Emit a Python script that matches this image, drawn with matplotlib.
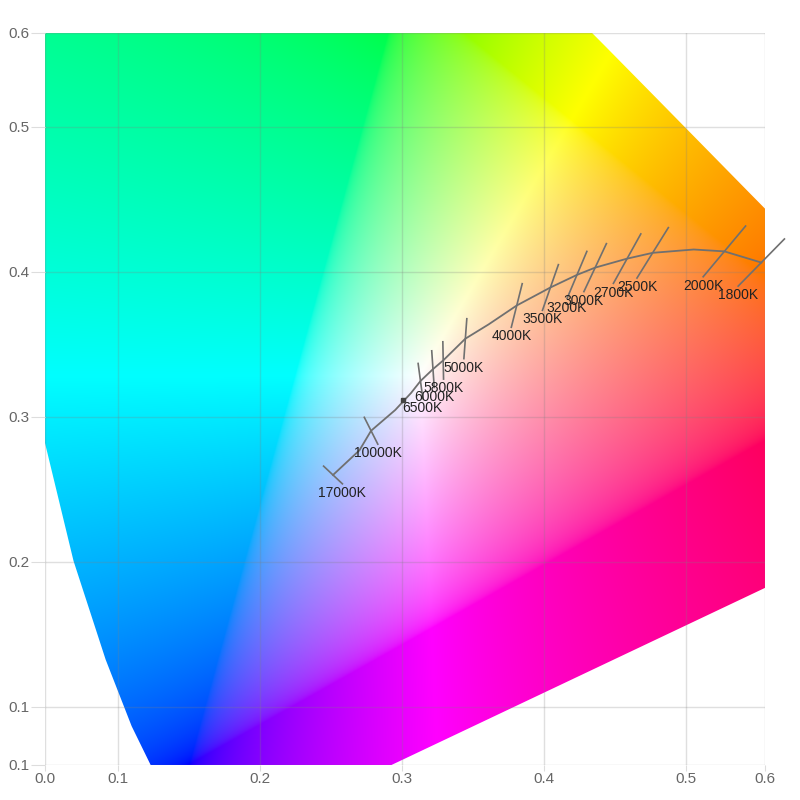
import numpy as np
import matplotlib
matplotlib.use("Agg")
import matplotlib.pyplot as plt
from matplotlib.patches import Polygon
from matplotlib.ticker import FormatStrFormatter

# CIE 1931 spectral locus, 380-700 nm every 5 nm
locus_x = [0.1741, 0.1740, 0.1738, 0.1736, 0.1733, 0.1730, 0.1726, 0.1721, 0.1714, 0.1703,
           0.1689, 0.1669, 0.1644, 0.1611, 0.1566, 0.1510, 0.1440, 0.1355, 0.1241, 0.1096,
           0.0913, 0.0687, 0.0454, 0.0235, 0.0082, 0.0039, 0.0139, 0.0389, 0.0743, 0.1142,
           0.1547, 0.1929, 0.2296, 0.2658, 0.3016, 0.3373, 0.3731, 0.4087, 0.4441, 0.4788,
           0.5125, 0.5448, 0.5752, 0.6029, 0.6270, 0.6482, 0.6658, 0.6801, 0.6915, 0.7006,
           0.7079, 0.7140, 0.7190, 0.7230, 0.7260, 0.7283, 0.7300, 0.7311, 0.7320, 0.7327,
           0.7334, 0.7340, 0.7344, 0.7346, 0.7347]
locus_y = [0.0050, 0.0050, 0.0049, 0.0049, 0.0048, 0.0048, 0.0048, 0.0048, 0.0051, 0.0058,
           0.0069, 0.0086, 0.0109, 0.0138, 0.0177, 0.0227, 0.0297, 0.0399, 0.0578, 0.0868,
           0.1327, 0.2007, 0.2950, 0.4127, 0.5384, 0.6548, 0.7502, 0.8120, 0.8338, 0.8262,
           0.8059, 0.7816, 0.7543, 0.7243, 0.6923, 0.6589, 0.6245, 0.5896, 0.5547, 0.5202,
           0.4866, 0.4544, 0.4242, 0.3965, 0.3725, 0.3514, 0.3340, 0.3197, 0.3083, 0.2993,
           0.2920, 0.2859, 0.2809, 0.2770, 0.2740, 0.2717, 0.2700, 0.2689, 0.2680, 0.2673,
           0.2666, 0.2660, 0.2656, 0.2654, 0.2653]

# planckian locus (as drawn)
cct = [17000, 12000, 10000, 8000, 7000, 6500, 6000, 5800, 5000, 4500, 4000, 3500,
       3200, 3000, 2700, 2500, 2200, 2000, 1800]
cct_x = [0.2514, 0.2700, 0.2782, 0.2952, 0.3064, 0.3130, 0.3218, 0.3290, 0.3446, 0.3609, 0.3808, 0.4045,
         0.4232, 0.4360, 0.4585, 0.4765, 0.5054, 0.5270, 0.5530]
cct_y = [0.2600, 0.2770, 0.2905, 0.3048, 0.3166, 0.3248, 0.3330, 0.3390, 0.3540, 0.3638, 0.3769, 0.3893,
         0.3980, 0.4030, 0.4092, 0.4132, 0.4155, 0.4142, 0.4065]
labeled = [17000, 10000, 6500, 6000, 5800, 5000, 4000, 3500, 3200, 3000, 2700, 2500, 2000, 1800]

mark_x = [0.3007]
mark_y = [0.3117]

xmin, xmax = 0.0486, 0.5556
ymin, ymax = 0.0600, 0.5648

plt.rcParams['font.family'] = ['Liberation Sans', 'DejaVu Sans']
fig = plt.figure(figsize=(8, 8), dpi=100)
ax = fig.add_axes([45/800, 1-765/800, 720/800, 732/800])

# colour fill: xy -> XYZ (Y=1) -> sRGB, clipped and normalised
gx = np.linspace(xmin, xmax, 900)
gy = np.linspace(ymin, ymax, 900)
X, Y = np.meshgrid(gx, gy)
XYZ = np.stack([X / Y, np.ones_like(X), (1 - X - Y) / Y], axis=-1)
M = np.array([[3.2406, -1.5372, -0.4986],
              [-0.9689, 1.8758, 0.0415],
              [0.0557, -0.2040, 1.0570]])
rgb = np.clip(XYZ @ M.T, 0, None)
rgb = rgb / rgb.max(axis=-1, keepdims=True)
rgb = np.where(rgb <= 0.0031308, 12.92 * rgb, 1.055 * rgb ** (1 / 2.4) - 0.055)
rgb = np.clip(rgb, 0, 1)

im = ax.imshow(rgb, extent=[xmin, xmax, ymin, ymax], origin='lower',
               interpolation='bilinear', aspect='auto', zorder=1)
horseshoe = Polygon(np.column_stack([locus_x, locus_y]), closed=True,
                    transform=ax.transData)
im.set_clip_path(horseshoe)

# planckian locus and isotherm ticks
ax.plot(cct_x, cct_y, color='#707070', lw=1.3, zorder=3)
for t, x, y in zip(cct, cct_x, cct_y):
    if t not in labeled:
        continue
    dx, dy = 0.3320 - x, 0.1858 - y
    n = np.hypot(dx, dy)
    h = min(0.007 + 0.034 * (1000.0 / t), 0.023)
    x0, y0 = x + dx / n * h, y + dy / n * h
    x1, y1 = x - dx / n * h, y - dy / n * h
    ax.plot([x0, x1], [y0, y1], color='#707070', lw=1.2, zorder=3, clip_on=False)
    ax.text(x0, y0 - 0.0015, f"{t}K", ha='center', va='top', fontsize=10,
            color='#222222', zorder=4)
ax.plot(mark_x, mark_y, 's', color='#444444', ms=3, zorder=4)

ax.set_xlim(xmin, xmax)
ax.set_ylim(ymin, ymax)
ax.set_xticks([xmin, 0.1, 0.2, 0.3, 0.4, 0.5, xmax])
ax.set_yticks([ymin, 0.1, 0.2, 0.3, 0.4, 0.5, ymax])
ax.xaxis.set_major_formatter(FormatStrFormatter('%.1f'))
ax.yaxis.set_major_formatter(FormatStrFormatter('%.1f'))
ax.tick_params(axis='y', length=10, color='#dddddd', labelcolor='#666666', labelsize=11, pad=1)
ax.tick_params(axis='x', length=4, color='#dddddd', labelcolor='#666666', labelsize=11, pad=1)
ax.grid(True, color='#808080', alpha=0.25, lw=1, zorder=2)
ax.set_axisbelow(False)
for s in ax.spines.values():
    s.set_visible(False)

fig.savefig('out.png', dpi=100, facecolor='white')
